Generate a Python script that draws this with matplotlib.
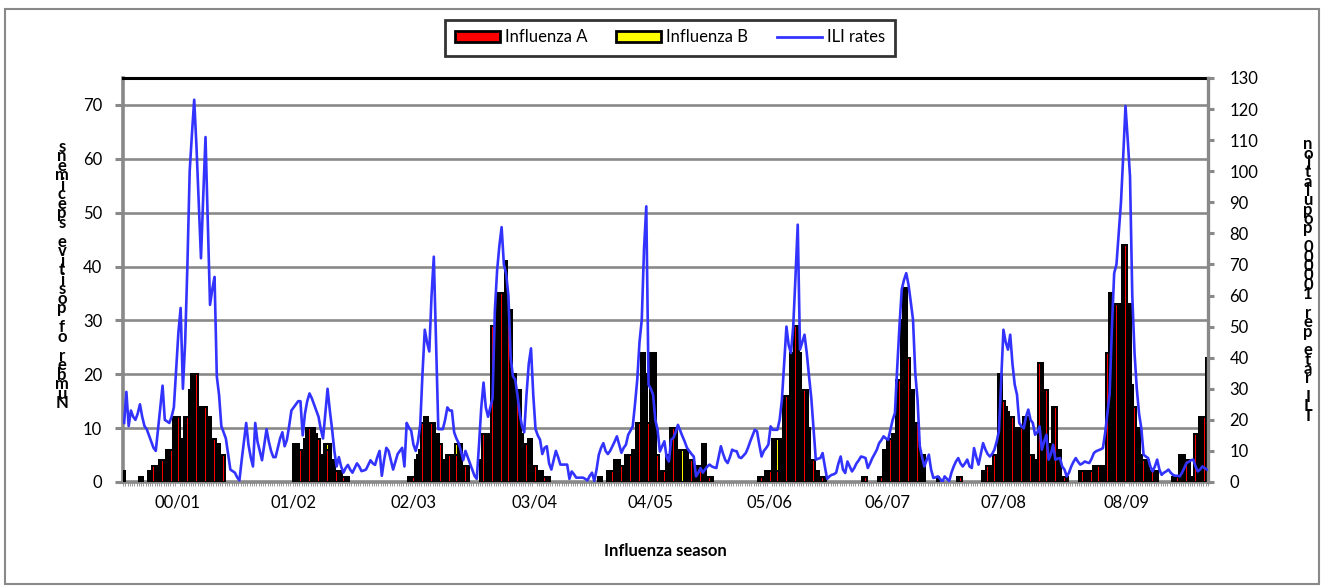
import matplotlib
matplotlib.use("Agg")
import matplotlib.pyplot as plt
import numpy as np
from matplotlib.patches import Rectangle, Patch
from matplotlib.lines import Line2D

plt.rcParams['font.family'] = ['Lato', 'DejaVu Sans']

# ---------------- data (one value per week) ----------------
flu_a = [
    2,0,0,0,0,0,0,1,1,0,0,2,2,3,3,3,4,4,4,6,
    3,6,12,12,12,8,8,12,12,17,20,20,20,14,0,14,14,12,12,8,
    8,7,7,5,5,0,0,0,0,0,0,0,0,0,0,0,0,0,0,0,
    0,0,0,0,0,0,0,0,0,0,0,0,0,0,0,7,7,7,6,6,
    8,10,10,10,10,9,8,5,5,7,6,7,4,4,2,2,2,1,1,1,
    0,0,0,0,0,0,0,0,0,0,0,0,0,0,0,0,0,0,0,0,
    0,0,0,0,0,0,1,1,1,4,5,6,11,0,12,11,11,11,9,9,
    7,4,4,5,5,5,5,5,7,7,3,3,3,0,0,0,0,0,4,9,
    9,9,9,29,29,35,35,35,35,41,32,32,20,20,17,17,9,7,7,8,
    8,3,3,2,2,2,1,1,1,0,0,0,0,0,0,0,0,0,0,0,
    0,0,0,0,0,0,0,0,0,0,1,1,0,0,2,2,2,4,4,4,
    3,3,5,5,5,6,6,11,11,24,24,20,11,24,24,24,5,2,2,2,
    5,5,10,10,10,6,6,0,6,6,4,4,3,3,3,3,7,7,1,1,
    1,0,0,0,0,0,0,0,0,0,0,0,0,0,0,0,0,0,0,0,
    0,1,1,1,2,2,2,8,8,2,8,8,16,16,16,24,24,29,29,24,
    17,17,17,8,4,4,2,2,1,1,1,0,0,0,0,0,0,0,0,0,
    0,0,0,0,0,0,0,1,1,0,0,0,0,0,1,1,6,6,8,8,
    9,9,19,19,30,36,36,23,17,17,11,11,5,5,5,0,0,0,0,0,
    1,0,0,0,0,0,0,0,0,1,1,0,0,0,0,0,0,0,0,0,
    2,2,3,3,3,5,5,20,13,15,14,13,12,12,10,10,10,10,12,12,
    12,5,5,0,4,22,22,17,17,7,7,14,14,6,6,1,1,0,0,0,
    0,0,0,2,2,2,2,2,2,3,3,3,3,3,3,24,35,35,33,33,
    33,33,44,44,26,33,18,14,10,10,5,4,4,4,2,2,2,2,0,0,
    0,0,0,0,1,1,1,5,5,5,4,4,1,1,9,9,12,12,12,23,
]

flu_b = [
    0,0,0,0,0,0,0,0,0,0,0,0,0,0,0,0,0,0,0,0,
    3,0,0,0,0,0,0,0,0,0,0,0,0,0,14,0,0,0,0,0,
    0,0,0,0,0,0,0,0,0,0,0,0,0,0,0,0,0,0,0,0,
    0,0,0,0,0,0,0,0,0,0,0,0,0,0,0,0,0,0,0,0,
    0,0,0,0,0,0,0,0,0,0,1,0,0,0,0,0,0,0,0,0,
    0,0,0,0,0,0,0,0,0,0,0,0,0,0,0,0,0,0,0,0,
    0,0,0,0,0,0,0,0,0,0,0,0,0,12,0,0,0,0,0,0,
    0,0,0,0,0,0,0,2,0,0,0,0,0,0,0,0,0,0,0,0,
    0,0,0,0,0,0,0,0,0,0,0,0,0,0,0,0,0,0,0,0,
    0,0,0,0,0,0,0,0,0,0,0,0,0,0,0,0,0,0,0,0,
    0,0,0,0,0,0,0,0,0,0,0,0,0,0,0,0,0,0,0,0,
    0,0,0,0,0,0,0,0,0,0,0,0,0,0,0,0,0,0,0,0,
    0,0,0,0,0,0,0,6,0,0,0,0,0,0,0,0,0,0,0,0,
    0,0,0,0,0,0,0,0,0,0,0,0,0,0,0,0,0,0,0,0,
    0,0,0,0,0,0,0,0,0,6,0,0,0,0,0,0,0,0,0,0,
    0,0,0,2,0,0,0,0,0,0,0,0,0,0,0,0,0,0,0,0,
    0,0,0,0,0,0,0,0,0,0,0,0,0,0,0,0,0,0,0,0,
    0,0,0,0,0,0,0,0,0,0,0,0,0,0,0,0,0,0,0,0,
    0,0,0,0,0,0,0,0,0,0,0,0,0,0,0,0,0,0,0,0,
    0,0,0,0,0,0,0,0,7,0,0,0,0,0,0,0,0,0,0,0,
    0,0,0,4,0,0,0,0,0,0,0,0,0,0,0,0,0,1,0,0,
    0,0,0,0,0,0,0,0,0,0,0,0,0,0,0,0,0,0,0,0,
    0,0,0,0,7,0,0,0,0,0,0,0,0,0,0,0,0,0,0,0,
    0,0,0,0,0,0,0,0,0,0,0,0,0,0,0,0,0,0,0,0,
]

ili_rates = [
    19,29,18,23,21,20,22,25,21,18,17,15,13,11,10,17,24,31,20,19.5,
    19,21,24,36,48,56,30,45,70,100,112,123,108,90,72,92,111,84,57,62,
    66,34,28,18,16,14,9,4,3.5,3,1.5,0.5,7,13,19,12,8,5,19,13,
    10,7,12,17,13,10,8,8,11,14,16,11.5,13.5,18,23,24,25,26,26,15,
    22,26,28.5,27,25,23,21,17,14,22,30,23,17,10,5,8,5,3,4.5,5.5,
    4,3,4.5,6,5,3.5,3.7,4,5.5,7,6,5.5,8,10,2,7,11,10,7,4,
    6.5,9,10,11,5,19,17.5,16.5,12,10,13,18.5,35,49,45,42,60,72.5,45,17,
    17,17,20,24,23,23,16,14,12.5,10,7,10,8,6,4,2,1,12,24,32,
    24,21,24,27,55,68,76,82,70,67,60,40,34,33,28,22,18,16,28,38,
    43,28,17,15,13.6,9,11,11.5,6,4,7,10,8,5.6,5.6,5.6,5.6,1,3.4,2.5,
    1.4,1.4,1.4,1.4,1,0.5,2,3,0.3,4,8.8,11,12.5,10,9,10,11.5,13,14.7,12,
    9.4,11,12,15.2,16.5,17.9,25,32.9,45,52.2,75,88.7,31.3,30,28.1,20,16.8,9.8,11.5,13.1,
    8,6.6,13.6,14.2,16,18.4,16.5,14.7,13,11,10,9,8.2,1.8,3,4.5,3,4,5,5.6,
    5,4.7,4.5,8,11.5,9,7,6.1,8,10.4,10,9.9,8,7.7,8.5,9.3,11,13.1,15,16.8,
    16.3,12,8.2,10,10.9,12,17.9,16.8,16.8,16.8,20,26.5,38,50,44,41.5,50,66,82.8,42.6,
    45,47.4,41.5,34,27,17,7.2,7.5,7.7,9.3,5,1,1.8,2.3,2.5,3,6,8.2,4,2.9,
    6.6,5,3.4,4.5,6,7,8.2,8,7.7,4.5,6,7.7,9,10.4,12.5,13.5,14.7,14,13.6,16.8,
    20,22.2,36.7,50,61.9,65,67.2,63.5,58,52.2,35,26.5,11.5,8,5,7,8.8,4,1.3,1.5,
    1.8,1,0,1.8,1,0.3,3,5,6.6,7.7,6,5,6,7.2,5,4.5,10.9,8,5.6,9,
    12.5,10.5,9,8.2,9,10.4,13,16.3,33,49,45,42.6,47.4,38,31.3,28.1,19,17.9,17.3,21,
    23.3,20,19,15.2,16,17.9,10.4,13,15.2,7.2,9,12,7.2,7.5,7.7,5,4,1.8,3,5,
    6.5,7.7,6.5,5.6,6,6.6,6.3,6.1,7.5,9.3,9.9,10.2,10.5,10.9,15.8,22,28.6,50,67.2,70,
    80,90,105,121,110,98.3,60,41.5,30,22,17.3,8.8,8.2,7.7,5,3.4,5,7.2,4,2.3,
    3,3.4,4,3,2.3,2,2,1.8,3,4.5,6.1,6.5,7,7.2,5,3.4,4,5,4.5,4,
]

season_labels = ['00/01', '01/02', '02/03', '03/04', '04/05',
                 '05/06', '06/07', '07/08', '08/09']
season_label_weeks = [23.5, 75, 128, 181.5, 233, 285.5, 337.5, 389, 443.5]

legend_labels = ['Influenza A', 'Influenza B', 'ILI rates']
left_label = 'Number of positive specimens'
right_label = 'ILI rate per 100000 population'
x_label = 'Influenza season'

# ---------------- styling ----------------
GRAY = '#898989'
BLUE = '#3333ff'
W, H = 1325, 588

fig = plt.figure(figsize=(W / 100, H / 100), dpi=100)
fig.patch.set_facecolor('white')

L, R, T, B = 123, 1208, 78, 482
ax = fig.add_axes([L / W, 1 - B / H, (R - L) / W, (B - T) / H])

weeks = np.arange(len(ili_rates))
a = np.array(flu_a, dtype=float)
b = np.array(flu_b, dtype=float)
ma = a > 0
mb = b > 0
ax.bar(weeks[ma], a[ma], width=1.0, color='red', edgecolor='black',
       linewidth=1.45, zorder=3)
ax.bar(weeks[mb], b[mb], bottom=a[mb], width=1.0, color='yellow',
       edgecolor='black', linewidth=1.45, zorder=3)

ax.set_xlim(-0.5, len(weeks) - 0.5)
ax.set_ylim(0, 75)
ax.set_yticks(range(0, 71, 10))
ax.yaxis.grid(True, color=GRAY, linewidth=1.9)
ax.set_axisbelow(True)

ax.set_xticks(season_label_weeks)
ax.set_xticklabels(season_labels, fontsize=12)
ax.set_xticks(np.arange(-0.5, len(weeks), 1.0), minor=True)
ax.tick_params(axis='x', which='major', length=0, pad=9)
ax.tick_params(axis='x', which='minor', length=3, width=0.6, color=GRAY)
ax.tick_params(axis='y', length=6, width=2.2, color=GRAY, pad=9, labelsize=12)

for s in ('left', 'bottom'):
    ax.spines[s].set_color(GRAY)
ax.spines['left'].set_linewidth(2.6)
ax.spines['bottom'].set_linewidth(2.6)
ax.spines['top'].set_color('black')
ax.spines['top'].set_linewidth(2.2)
ax.spines['right'].set_visible(False)

ax2 = ax.twinx()
ax2.plot(weeks, ili_rates, color=BLUE, linewidth=1.9, zorder=5)
ax2.set_ylim(0, 130)
ax2.set_yticks(range(0, 131, 10))
ax2.tick_params(axis='y', length=4.5, width=2.2, color=GRAY, pad=11, labelsize=12)
ax2.spines['right'].set_color(GRAY)
ax2.spines['right'].set_linewidth(2.4)
for s in ('left', 'bottom', 'top'):
    ax2.spines[s].set_visible(False)

# stacked (vertical-letter) axis titles
fig.text(62 / W, 1 - 275 / H, '\n'.join(reversed(left_label)), ha='center',
         va='center', fontsize=12, fontweight='bold', linespacing=0.5)
fig.text(1308 / W, 1 - 280 / H, '\n'.join(reversed(right_label)), ha='center',
         va='center', fontsize=12, fontweight='bold', linespacing=0.49)

fig.text((L + R) / 2 / W, 1 - 551 / H, x_label, ha='center', va='center',
         fontsize=12, fontweight='bold')

handles = [Patch(facecolor='red', edgecolor='black', linewidth=2),
           Patch(facecolor='yellow', edgecolor='black', linewidth=2),
           Line2D([], [], color=BLUE, linewidth=2)]
leg = fig.legend(handles, legend_labels, loc='center',
                 bbox_to_anchor=(670 / W, 1 - 37.5 / H), ncol=3,
                 frameon=True, fancybox=False, fontsize=12,
                 handlelength=2.7, handleheight=0.6, handletextpad=0.3,
                 columnspacing=1.7, borderpad=0.6)
leg.get_frame().set_edgecolor('black')
leg.get_frame().set_linewidth(2)

fig.patches.append(Rectangle((5 / W, 1 - 584 / H), 1314 / W, 575 / H,
                             transform=fig.transFigure, fill=False,
                             edgecolor=GRAY, linewidth=1.5))

fig.savefig('out.png', dpi=100)
